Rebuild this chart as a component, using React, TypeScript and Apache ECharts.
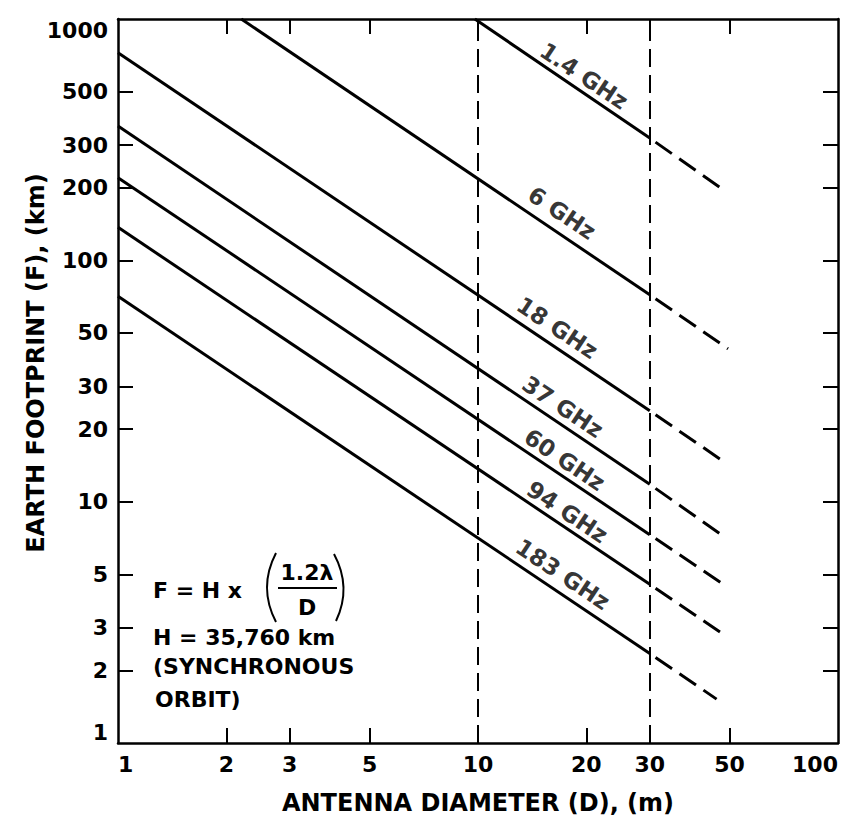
import React, { useEffect, useRef } from "react";
import * as echarts from "echarts";

// ---- data ----
const FREQUENCIES = ["1.4 GHz", "6 GHz", "18 GHz", "37 GHz", "60 GHz", "94 GHz", "183 GHz"];
// solid part: start point (D, F) ... end at D = 30 m
const SOLID_START_D = [9.8, 2.2, 1, 1, 1, 1, 1];
const SOLID_START_F = [1000, 1000, 725, 360, 220, 137, 71];
const SOLID_END_D = 30;
const SOLID_END_F = [321, 72, 23.8, 11.8, 7.3, 4.55, 2.35];
// dashed extrapolation beyond 30 m
const DASH_END_D = [49, 49.5, 48, 48, 47.5, 47.5, 46];
const DASH_END_F = [192, 43, 14.7, 7.2, 4.6, 2.85, 1.52];
// label anchors (D, F)
const LABEL_D = [19.7, 17.1, 16.6, 17.2, 17.4, 17.7, 17.2];
const LABEL_F = [581, 157, 52.5, 24.7, 14.9, 9.06, 5.0];
// reference diameters (vertical dashed lines)
const MARKER_D = [10, 30];

const X_LABELS = [1, 2, 3, 5, 10, 20, 30, 50, 100];
const Y_LABELS = [1, 2, 3, 5, 10, 20, 30, 50, 100, 200, 300, 500, 1000];

const X_NAME = "ANTENNA DIAMETER (D), (m)";
const Y_NAME = "EARTH FOOTPRINT (F), (km)";

const FONT = "DejaVu Sans";
const BLACK = "#000";

const log = (v: number) => Math.log10(v);
const fmt = (v: number) => String(Math.round(Math.pow(10, v)));

export default function App() {
  const ref = useRef<HTMLDivElement>(null);

  useEffect(() => {
    if (!ref.current) return;
    const chart = echarts.init(ref.current, undefined, { renderer: "svg" });

    const xLog = X_LABELS.map(log);
    const yLog = Y_LABELS.map(log);
    const xInner = xLog.slice(1, -1);
    const yInner = yLog.slice(1, -1);

    const tickStyle = { show: true, inside: true, length: 15, lineStyle: { color: BLACK, width: 2 } };
    const lineStyleAxis = { show: true, onZero: false, lineStyle: { color: BLACK, width: 2.5 } };
    const labelText = { fontFamily: FONT, fontWeight: "bold", fontSize: 22, color: BLACK };

    const solidSeries = FREQUENCIES.map((f, i) => ({
      type: "line",
      name: f,
      xAxisIndex: 0,
      yAxisIndex: 0,
      silent: true,
      symbol: "none",
      data: [
        [SOLID_START_D[i], SOLID_START_F[i]],
        [SOLID_END_D, SOLID_END_F[i]],
      ],
      lineStyle: { color: BLACK, width: 3 },
      ...(i === 0
        ? {
            markLine: {
              silent: true,
              symbol: ["none", "none"],
              label: { show: false },
              lineStyle: { color: BLACK, width: 2, type: [18, 8] },
              data: MARKER_D.map((d) => ({ xAxis: d })),
            },
          }
        : {}),
    }));

    const dashSeries = FREQUENCIES.map((f, i) => ({
      type: "line",
      name: f + " (extrapolated)",
      xAxisIndex: 0,
      yAxisIndex: 0,
      silent: true,
      symbol: "none",
      data: [
        [SOLID_END_D, SOLID_END_F[i]],
        [DASH_END_D[i], DASH_END_F[i]],
      ],
      lineStyle: { color: BLACK, width: 3, type: [20, 9], dashOffset: 22 },
    }));

    const labelSeries = {
      type: "scatter",
      xAxisIndex: 0,
      yAxisIndex: 0,
      silent: true,
      symbolSize: 1,
      itemStyle: { color: "transparent" },
      data: FREQUENCIES.map((f, i) => ({ name: f, value: [LABEL_D[i], LABEL_F[i]] })),
      label: {
        show: true,
        formatter: "{b}",
        position: "inside",
        rotate: -33.8,
        fontFamily: FONT,
        fontWeight: "bold",
        fontSize: 23,
        color: BLACK,
        textBorderWidth: 0,
      },
    };

    const formulaStyle = { fontFamily: FONT, fontWeight: "bold", fontSize: 22, fill: BLACK };
    const txt = (text: string, x: number, y: number, align = "left") => ({
      type: "text",
      x,
      y,
      silent: true,
      style: { text, ...formulaStyle, textAlign: align, align, textVerticalAlign: "middle", verticalAlign: "middle" },
    });

    chart.setOption({
      animation: false,
      backgroundColor: "#fff",
      grid: { left: 118, right: 9, top: 19, bottom: 82, containLabel: false },
      xAxis: [
        { type: "log", logBase: 10, min: 1, max: 100, show: false },
        {
          type: "value",
          min: 0,
          max: 2,
          position: "bottom",
          axisLine: lineStyleAxis,
          axisTick: { ...tickStyle, customValues: xInner },
          splitLine: { show: false },
          axisLabel: {
            ...labelText,
            margin: 10,
            customValues: xLog,
            formatter: fmt,
            alignMinLabel: "left",
            alignMaxLabel: "right",
          },
          name: X_NAME,
          nameLocation: "middle",
          nameGap: 48,
          nameMoveOverlap: false,
          nameTextStyle: { fontFamily: FONT, fontWeight: "bold", fontSize: 24, color: BLACK },
        },
        {
          type: "value",
          min: 0,
          max: 2,
          position: "top",
          axisLine: lineStyleAxis,
          axisTick: { ...tickStyle, customValues: xInner },
          splitLine: { show: false },
          axisLabel: { show: false },
        },
      ],
      yAxis: [
        { type: "log", logBase: 10, min: 1, max: 1000, show: false },
        {
          type: "value",
          min: 0,
          max: 3,
          position: "left",
          axisLine: lineStyleAxis,
          axisTick: { ...tickStyle, customValues: yInner },
          splitLine: { show: false },
          axisLabel: {
            ...labelText,
            margin: 10,
            customValues: yLog,
            formatter: fmt,
            verticalAlignMinLabel: "bottom",
            verticalAlignMaxLabel: "top",
          },
          name: Y_NAME,
          nameLocation: "middle",
          nameGap: 70,
          nameRotate: 90,
          nameMoveOverlap: false,
          nameTextStyle: {
            fontFamily: FONT,
            fontWeight: "bold",
            fontSize: 24,
            color: BLACK,
            padding: [0, 0, 0, 36],
          },
        },
        {
          type: "value",
          min: 0,
          max: 3,
          position: "right",
          axisLine: lineStyleAxis,
          axisTick: { ...tickStyle, customValues: yInner },
          splitLine: { show: false },
          axisLabel: { show: false },
        },
      ],
      series: [...solidSeries, ...dashSeries, labelSeries],
      graphic: [
        txt("F = H x", 153, 590),
        {
          type: "bezierCurve",
          silent: true,
          shape: { x1: 276, y1: 553, x2: 276, y2: 622, cpx1: 258, cpy1: 587.5 },
          style: { stroke: BLACK, lineWidth: 2, fill: "none" },
        },
        {
          type: "bezierCurve",
          silent: true,
          shape: { x1: 334, y1: 554, x2: 336, y2: 621, cpx1: 352, cpy1: 587.5 },
          style: { stroke: BLACK, lineWidth: 2, fill: "none" },
        },
        txt("1.2\u03bb", 307, 572, "center"),
        {
          type: "line",
          silent: true,
          shape: { x1: 278, y1: 588, x2: 337, y2: 588 },
          style: { stroke: BLACK, lineWidth: 2 },
        },
        txt("D", 307, 607, "center"),
        txt("H = 35,760 km", 153, 637),
        txt("(SYNCHRONOUS", 153, 666),
        txt("ORBIT)", 155, 699),
      ],
    });

    return () => chart.dispose();
  }, []);

  return (
    <div
      ref={ref}
      style={{ position: "fixed", left: 0, top: 0, width: 847, height: 825, background: "#fff" }}
    />
  );
}
